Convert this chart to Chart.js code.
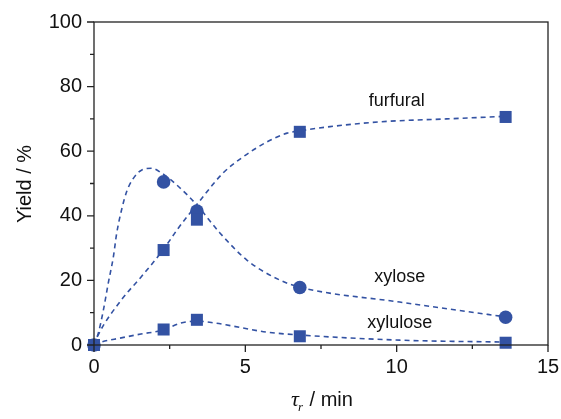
<!DOCTYPE html>
<html>
<head>
<meta charset="utf-8">
<script src="https://cdn.jsdelivr.net/npm/chart.js@4"></script>
<style>
  html, body { margin: 0; padding: 0; background: #fff; }
  #wrap { width: 561px; height: 419px; }
</style>
</head>
<body>
<div id="wrap"><canvas id="yieldChart"></canvas></div>
<script>
// measured points
const sampleTimes = [0, 2.3, 3.4, 6.8, 13.6];
const furfural = [0, 29.4, 38.8, 66, 70.6];
const xylose = [0, 50.5, 41.5, 17.8, 8.6];
const xylulose = [0, 4.8, 7.8, 2.7, 0.7];

// model curves
const xyloseFitX = [0, 0.14, 0.31, 0.47, 0.64, 0.75, 0.91, 1.08, 1.3, 1.58, 1.91, 2.24, 2.8, 3.4, 4.16, 5.05, 6.14, 6.8, 10.1, 13.6];
const xyloseFitY = [0, 3.6, 10.8, 19.1, 27.3, 34.6, 41.8, 47.5, 51.6, 54.2, 54.7, 53.2, 49.0, 43.3, 34.7, 26.3, 20.1, 17.9, 13.3, 8.7];
const furfuralFitX = [0, 0.13, 0.9, 1.55, 2.28, 2.77, 3.44, 4.26, 4.92, 5.7, 6.38, 6.8, 7.8, 9.45, 11.65, 13.6];
const furfuralFitY = [0, 3, 13.9, 21, 29.4, 36, 44, 53.2, 58.2, 62.8, 65.6, 66.3, 67.6, 69.1, 70.0, 70.8];
const xyluloseFitX = [0, 0.13, 0.9, 1.55, 2.28, 2.87, 3.43, 4.0, 4.5, 5.7, 6.8, 10.1, 13.6];
const xyluloseFitY = [0, 0.6, 2.2, 3.4, 4.6, 6.8, 7.4, 6.8, 6.0, 4.0, 3.1, 1.5, 0.9];

const xTicks = [0, 5, 10, 15];
const yTicks = [0, 20, 40, 60, 80, 100];
const xMinor = [2.5, 7.5, 12.5];
const yMinor = [10, 30, 50, 70, 90];

const labels = [
  { text: 'furfural', x: 10.0, y: 75.5 },
  { text: 'xylose', x: 10.1, y: 21.0 },
  { text: 'xylulose', x: 10.1, y: 6.8 }
];

const blue = '#3352a3';
const toXY = (xs, ys) => xs.map((x, i) => ({ x: x, y: ys[i] }));

const fitLine = (xs, ys) => ({
  type: 'line',
  data: toXY(xs, ys),
  borderColor: blue,
  borderWidth: 1.6,
  borderDash: [5, 4],
  pointRadius: 0,
  cubicInterpolationMode: 'monotone',
  fill: false
});

const frame = {
  id: 'frame',
  afterDraw(chart) {
    const ctx = chart.ctx;
    const a = chart.chartArea;
    const xs = chart.scales.x, ys = chart.scales.y;
    ctx.save();
    ctx.strokeStyle = '#222';
    ctx.lineWidth = 1.3;
    ctx.strokeRect(a.left, a.top, a.right - a.left, a.bottom - a.top);
    ctx.beginPath();
    xTicks.forEach(v => { const p = xs.getPixelForValue(v); ctx.moveTo(p, a.bottom); ctx.lineTo(p, a.bottom + 7); });
    xMinor.forEach(v => { const p = xs.getPixelForValue(v); ctx.moveTo(p, a.bottom); ctx.lineTo(p, a.bottom + 4); });
    yTicks.forEach(v => { const p = ys.getPixelForValue(v); ctx.moveTo(a.left, p); ctx.lineTo(a.left - 7, p); });
    yMinor.forEach(v => { const p = ys.getPixelForValue(v); ctx.moveTo(a.left, p); ctx.lineTo(a.left - 4, p); });
    ctx.stroke();

    // series labels
    ctx.fillStyle = '#111';
    ctx.font = '18px "Liberation Sans", Arial, sans-serif';
    ctx.textAlign = 'center';
    ctx.textBaseline = 'middle';
    labels.forEach(l => ctx.fillText(l.text, xs.getPixelForValue(l.x), ys.getPixelForValue(l.y)));

    // y title
    ctx.save();
    ctx.translate(25, 184);
    ctx.rotate(-Math.PI / 2);
    ctx.font = '20px "Liberation Sans", Arial, sans-serif';
    ctx.fillText('Yield / %', 0, 0);
    ctx.restore();

    // x title: tau_r / min
    const base = 406;
    ctx.textAlign = 'left';
    ctx.textBaseline = 'alphabetic';
    ctx.font = 'italic 22px "Liberation Serif", "Times New Roman", serif';
    const tauW = ctx.measureText('τ').width;
    ctx.font = 'italic 13px "Liberation Serif", "Times New Roman", serif';
    const rW = ctx.measureText('r').width;
    ctx.font = '20px "Liberation Sans", Arial, sans-serif';
    const restW = ctx.measureText(' / min').width;
    let x0 = 322 - (tauW + rW + restW) / 2;
    ctx.font = 'italic 22px "Liberation Serif", "Times New Roman", serif';
    ctx.fillText('τ', x0, base);
    ctx.font = 'italic 13px "Liberation Serif", "Times New Roman", serif';
    ctx.fillText('r', x0 + tauW - 1, base + 5);
    ctx.font = '20px "Liberation Sans", Arial, sans-serif';
    ctx.fillText(' / min', x0 + tauW + rW, base);
    ctx.restore();
  }
};

new Chart(document.getElementById('yieldChart'), {
  type: 'scatter',
  data: {
    datasets: [
      fitLine(xyloseFitX, xyloseFitY),
      fitLine(furfuralFitX, furfuralFitY),
      fitLine(xyluloseFitX, xyluloseFitY),
      {
        data: toXY(sampleTimes, furfural),
        pointStyle: 'rect',
        pointRadius: 8.5,
        backgroundColor: blue,
        borderWidth: 0
      },
      {
        data: toXY(sampleTimes, xylulose),
        pointStyle: 'rect',
        pointRadius: 8.5,
        backgroundColor: blue,
        borderWidth: 0
      },
      {
        data: toXY(sampleTimes, xylose),
        pointStyle: 'circle',
        pointRadius: 6.8,
        backgroundColor: blue,
        borderWidth: 0
      }
    ]
  },
  options: {
    responsive: true,
    maintainAspectRatio: false,
    animation: false,
    clip: false,
    layout: { padding: { top: 22, right: 13, left: 0, bottom: 0 } },
    plugins: {
      legend: { display: false },
      tooltip: { enabled: false }
    },
    scales: {
      x: {
        type: 'linear',
        min: 0, max: 15,
        grid: { display: false, drawTicks: false },
        border: { display: false },
        ticks: {
          stepSize: 5,
          color: '#111',
          padding: 10,
          font: { size: 20, family: '"Liberation Sans", Arial, sans-serif' }
        },
        afterFit(s) { s.height = 74; s.paddingLeft = 0; s.paddingRight = 0; }
      },
      y: {
        min: 0, max: 100,
        grid: { display: false, drawTicks: false },
        border: { display: false },
        ticks: {
          stepSize: 20,
          color: '#111',
          padding: 12,
          font: { size: 20, family: '"Liberation Sans", Arial, sans-serif' }
        },
        afterFit(s) { s.width = 94; s.paddingTop = 0; s.paddingBottom = 0; }
      }
    }
  },
  plugins: [frame]
});
</script>
</body>
</html>
